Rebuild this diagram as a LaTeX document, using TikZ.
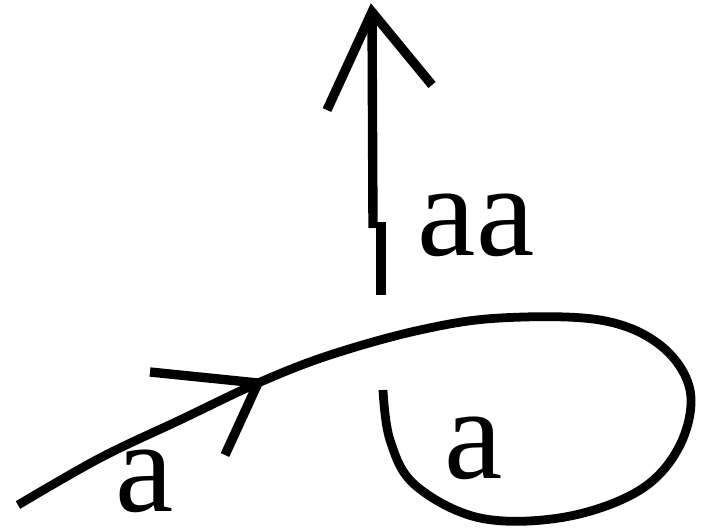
\documentclass[tikz,border=0pt]{standalone}
\usepackage{fontspec}
\setmainfont{Liberation Serif}
\usetikzlibrary{positioning}

\begin{document}
\begin{tikzpicture}[
    x=0.03cm, y=-0.03cm,
    stroke/.style={line width=8pt, black},
    lbl/.style={font=\fontsize{112}{114}\selectfont, inner sep=0pt},
]
\useasboundingbox (0,0) rectangle (702,530);

% the path with its loop
\coordinate (start) at (18,505);
\coordinate (tip) at (258,383);
\coordinate (loopend) at (383,390);
\draw[stroke, line width=7.5pt, line join=round] plot[smooth, tension=0.6] coordinates {
    (start) (100,458) (180,420) (tip) (330,355) (420,330) (500,318)
    (600,320) (660,345) (690,390) (680,445) (640,490) (565,517)
    (480,518) (415,485) (390,440) (loopend)};

% arrow head on the path
\coordinate (barbA) at (150,372);
\coordinate (barbB) at (225,455);
\draw[stroke] (barbA) -- (tip) -- (barbB);

% vertical arrow
\coordinate (vbase) at (381,295);
\coordinate (vjog) at (381,222);
\coordinate (vjogtop) at (373,228);
\coordinate (vtop) at (372,12);
\coordinate (vbarbL) at (327,110);
\coordinate (vbarbR) at (432,85);
\draw[stroke] (vbase) -- (vjog);
\draw[stroke] (vjogtop) -- (vtop);
\draw[stroke, line join=miter] (vbarbL) -- (vtop) -- (vbarbR);

% labels
\node[lbl] (lblpath) at (145,481) {a};
\node[lbl] (lblloop) at (474,448) {a};
\node[lbl] (lblup) at (476,225) {aa};
\end{tikzpicture}
\end{document}
